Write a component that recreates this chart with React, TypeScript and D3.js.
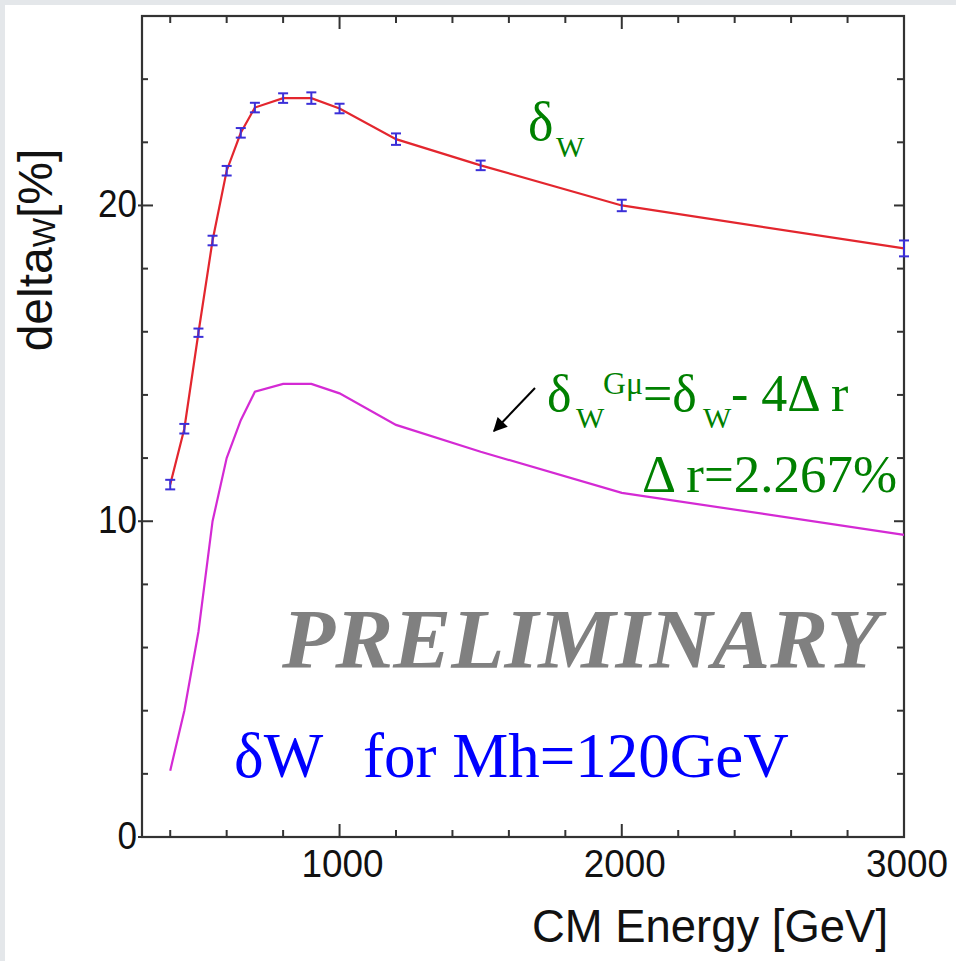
import React from 'react';
import * as d3 from 'd3';

// CM energy points [GeV]
const energies = [400, 450, 500, 550, 600, 650, 700, 800, 900, 1000, 1200, 1500, 2000, 3000];
// delta_W [%] with its error
const deltaW = [11.16, 12.93, 15.97, 18.89, 21.1, 22.3, 23.1, 23.4, 23.4, 23.07, 22.1, 21.27, 20.0, 18.64];
const deltaWErr = [0.12, 0.12, 0.1, 0.12, 0.12, 0.12, 0.12, 0.12, 0.15, 0.12, 0.15, 0.12, 0.15, 0.22];
// delta_W^Gmu [%]
const deltaWGmu = [2.1, 4.0, 6.5, 10.0, 12.0, 13.2, 14.1, 14.35, 14.35, 14.05, 13.05, 12.2, 10.9, 9.57];

const xMajorTicks = [1000, 2000, 3000];
const xMinorTicks = [400, 600, 800, 1200, 1400, 1600, 1800, 2200, 2400, 2600, 2800];
const yMajorTicks = [0, 10, 20];
const yMinorTicks = [2, 4, 6, 8, 12, 14, 16, 18, 22, 24];

const W = 956;
const H = 961;
const frame = { left: 142, right: 904, top: 16, bottom: 837 };

const sans = '"Liberation Sans", Arial, sans-serif';
const serif = '"Liberation Serif", "Times New Roman", serif';

const App = () => {
  const x = d3.scaleLinear().domain([300, 3000]).range([frame.left, frame.right]);
  const y = d3.scaleLinear().domain([0, 26]).range([frame.bottom, frame.top]);

  const pts = energies.map((e, i) => ({ e, v: deltaW[i], err: deltaWErr[i], g: deltaWGmu[i] }));

  const redLine = d3.line<any>().x(d => x(d.e)).y(d => y(d.v));
  const pinkLine = d3.line<any>().x(d => x(d.e)).y(d => y(d.g));

  const axisColor = '#333';

  return (
    <div style={{ position: 'absolute', left: 0, top: 0 }}>
      <svg width={W} height={H} viewBox={`0 0 ${W} ${H}`} style={{ display: 'block' }}>
        <defs>
          <marker id="arrow" viewBox="0 0 10 10" refX="9" refY="5" markerWidth="16" markerHeight="14"
            markerUnits="userSpaceOnUse" orient="auto">
            <path d="M0,0 L10,5 L0,10 Z" fill="#000" />
          </marker>
        </defs>
        <rect x={0} y={0} width={W} height={H} fill="#fff" />
        <rect x={0} y={0} width={W} height={5} fill="#e4e7ea" />
        <rect x={0} y={0} width={5} height={H} fill="#e4e7ea" />

        {/* frame */}
        <rect x={frame.left} y={frame.top} width={frame.right - frame.left} height={frame.bottom - frame.top}
          fill="none" stroke={axisColor} strokeWidth={2.2} />

        {/* x ticks, bottom and top */}
        {xMinorTicks.map(t => (
          <g key={'xm' + t}>
            <line x1={x(t)} x2={x(t)} y1={frame.bottom} y2={frame.bottom - 7} stroke={axisColor} strokeWidth={2} />
            <line x1={x(t)} x2={x(t)} y1={frame.top} y2={frame.top + 7} stroke={axisColor} strokeWidth={2} />
          </g>
        ))}
        {xMajorTicks.map(t => (
          <g key={'xM' + t}>
            <line x1={x(t)} x2={x(t)} y1={frame.bottom} y2={frame.bottom - 13} stroke={axisColor} strokeWidth={2} />
            <line x1={x(t)} x2={x(t)} y1={frame.top} y2={frame.top + 13} stroke={axisColor} strokeWidth={2} />
            <text x={x(t) + 3} y={877} textAnchor="middle" fontFamily={sans} fontSize={38}
              textLength={82} lengthAdjust="spacingAndGlyphs" fill="#111">{t}</text>
          </g>
        ))}

        {/* y ticks, left and right */}
        {yMinorTicks.map(t => (
          <g key={'ym' + t}>
            <line x1={frame.left} x2={frame.left + 6} y1={y(t)} y2={y(t)} stroke={axisColor} strokeWidth={2} />
            <line x1={frame.right} x2={frame.right - 7} y1={y(t)} y2={y(t)} stroke={axisColor} strokeWidth={2} />
          </g>
        ))}
        {yMajorTicks.map(t => (
          <g key={'yM' + t}>
            <line x1={frame.left - 4} x2={frame.left + 11} y1={y(t)} y2={y(t)} stroke={axisColor} strokeWidth={2} />
            <line x1={frame.right} x2={frame.right - 10} y1={y(t)} y2={y(t)} stroke={axisColor} strokeWidth={2} />
            <text x={137} y={y(t) + 12} textAnchor="end" fontFamily={sans} fontSize={39}
              textLength={19.5 * String(t).length} lengthAdjust="spacingAndGlyphs" fill="#111">{t}</text>
          </g>
        ))}

        {/* axis titles */}
        <text x={888} y={942} textAnchor="end" fontFamily={sans} fontSize={46}
          textLength={356} lengthAdjust="spacingAndGlyphs" fill="#111">CM Energy [GeV]</text>
        <text transform="translate(52,250) rotate(-90)" textAnchor="middle" fontFamily={sans} fontSize={48} fill="#111">
          delta<tspan fontSize={31} dy={3}>W</tspan><tspan dy={-3}>[%]</tspan>
        </text>

        {/* delta_W^Gmu curve */}
        <path d={pinkLine(pts) ?? ''} fill="none" stroke="#d42ad4" strokeWidth={2.2} />

        {/* delta_W curve with error bars */}
        <path d={redLine(pts) ?? ''} fill="none" stroke="#e3262e" strokeWidth={2.2} />
        {pts.map(p => (
          <g key={'e' + p.e} stroke="#3b2fd8" strokeWidth={2}>
            <line x1={x(p.e)} x2={x(p.e)} y1={y(p.v - p.err) + 1} y2={y(p.v + p.err) - 1} />
            <line x1={x(p.e) - 5} x2={x(p.e) + 5} y1={y(p.v - p.err) + 1} y2={y(p.v - p.err) + 1} />
            <line x1={x(p.e) - 5} x2={x(p.e) + 5} y1={y(p.v + p.err) - 1} y2={y(p.v + p.err) - 1} />
          </g>
        ))}

        {/* annotations */}
        <text fontFamily={serif} fill="#008000" fontSize={54}>
          <tspan x={528} y={140}>δ</tspan>
          <tspan x={556} y={157} fontSize={30}>W</tspan>
        </text>

        <line x1={535} y1={388} x2={494} y2={431} stroke="#000" strokeWidth={2} markerEnd="url(#arrow)" />
        <text fontFamily={serif} fill="#008000" fontSize={52}>
          <tspan x={547} y={411}>δ</tspan>
          <tspan x={576} y={428} fontSize={30}>W</tspan>
          <tspan x={603} y={394} fontSize={31} textLength={40} lengthAdjust="spacingAndGlyphs">Gμ</tspan>
          <tspan x={643} y={411}>=δ</tspan>
          <tspan x={703} y={428} fontSize={30}>W</tspan>
          <tspan x={731} y={411}>- 4Δ r</tspan>
        </text>
        <text x={642} y={492} fontFamily={serif} fill="#008000" fontSize={52}
          textLength={255} lengthAdjust="spacingAndGlyphs">Δ r=2.267%</text>

        <text x={282} y={668} fontFamily={serif} fontWeight="bold" fontStyle="italic" fill="#808080" fontSize={85}
          textLength={598} lengthAdjust="spacingAndGlyphs">PRELIMINARY</text>

        <text fontFamily={serif} fill="#0000ff" fontSize={63}>
          <tspan x={234} y={777}>δW</tspan>
          <tspan x={363} y={777}>for Mh=120GeV</tspan>
        </text>
      </svg>
    </div>
  );
};

export default App;
